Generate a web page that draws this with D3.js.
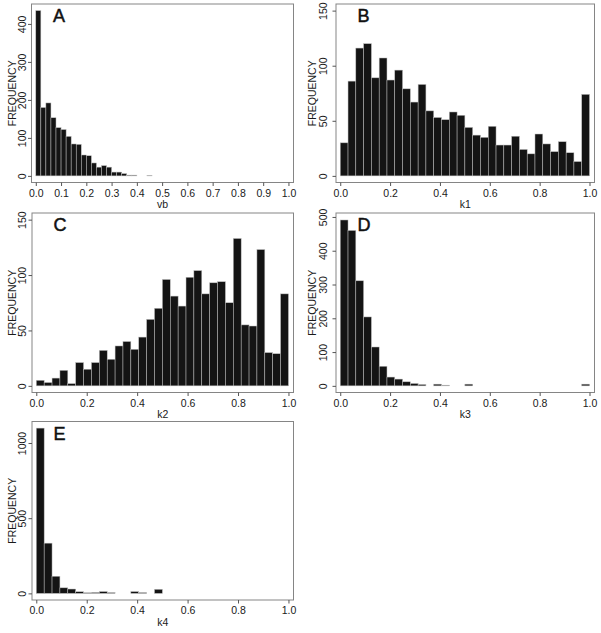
<!DOCTYPE html>
<html>
<head>
<meta charset="utf-8">
<script src="https://cdn.jsdelivr.net/npm/d3@7"></script>
<style>
  body { margin: 0; background: #fff; }
  svg { display: block; font-family: "Liberation Sans", Arial, sans-serif; }
</style>
</head>
<body>
<svg id="vis" width="601" height="633"></svg>
<script>
const width = 601;
const height = 633;

// histogram counts
// vb uses bins of 0.02, the k's use 32 bins over [0, 1]
const vbCounts = [435, 180, 192, 153, 127, 122, 104, 84, 83, 55, 53, 34, 23, 27, 23, 10, 10, 6, 2, 2, 0, 0, 1];
const k1Counts = [30, 86, 116, 120, 89, 107, 87, 96, 79, 67, 83, 59, 53, 51, 58, 55,
  44, 37, 35, 45, 28, 28, 36, 24, 20, 38, 29, 22, 31, 21, 13, 74];
const k2Counts = [5, 3, 7, 14, 2, 21, 15, 21, 32, 24, 36, 40, 33, 44, 60, 70,
  96, 81, 72, 98, 104, 83, 93, 94, 75, 133, 55, 54, 123, 30, 29, 83];
const k3Counts = [491, 460, 311, 204, 115, 58, 26, 20, 12, 7, 4, 0, 5, 2, 0, 0,
  5, 0, 0, 0, 0, 0, 0, 0, 0, 0, 0, 0, 0, 0, 0, 5];
const k4Counts = [1099, 334, 114, 37, 29, 11, 4, 6, 12, 5, 0, 0, 12, 5, 0, 27,
  0, 0, 0, 0, 0, 0, 0, 0, 0, 0, 0, 0, 0, 0, 0, 0];

const vbTicks = d3.range(0, 11).map(d => d / 10);
const kTicks = [0, 0.2, 0.4, 0.6, 0.8, 1.0];

const panels = [
  {letter: "A", name: "vb", counts: vbCounts, binWidth: 0.02, ymax: 435, yTicks: [0, 100, 200, 300, 400], xTicks: vbTicks,
    box: [31.5, 4, 293.5, 182.5], col: 0},
  {letter: "B", name: "k1", counts: k1Counts, binWidth: 1 / 32, ymax: 150, yTicks: [0, 50, 100, 150], xTicks: kTicks,
    box: [336, 4, 594.5, 182.5], col: 300},
  {letter: "C", name: "k2", counts: k2Counts, binWidth: 1 / 32, ymax: 150, yTicks: [0, 50, 100, 150], xTicks: kTicks,
    box: [32, 213, 293.5, 392.5], col: 0},
  {letter: "D", name: "k3", counts: k3Counts, binWidth: 1 / 32, ymax: 492, yTicks: [0, 100, 200, 300, 400, 500], xTicks: kTicks,
    box: [336, 213, 594.5, 392.5], col: 300},
  {letter: "E", name: "k4", counts: k4Counts, binWidth: 1 / 32, ymax: 1099, yTicks: [0, 500, 1000], xTicks: kTicks,
    box: [32, 421.5, 293.5, 600], col: 0}
];

const svg = d3.select("svg#vis");
svg.append("rect").attr("width", width).attr("height", height).attr("fill", "#fff");

const fontSize = 10.5;

panels.forEach(drawPanel);

function drawPanel(p) {
  const [x0, y0, x1, y1] = p.box;
  const g = svg.append("g").attr("class", "panel");

  // R style: 4% padding on y, a little on x
  const x = d3.scaleLinear().domain([-0.017, 1.02]).range([x0, x1]);
  const y = d3.scaleLinear().domain([-0.04 * p.ymax, 1.04 * p.ymax]).range([y1, y0]);

  const bins = p.counts.map((c, i) => ({x0: i * p.binWidth, x1: (i + 1) * p.binWidth, count: c}))
    .filter(d => d.count > 0);

  g.selectAll("rect.bar")
    .data(bins)
    .enter()
    .append("rect")
    .attr("class", "bar")
    .attr("x", d => x(d.x0))
    .attr("width", d => x(d.x1) - x(d.x0))
    .attr("y", d => y(d.count))
    .attr("height", d => y(0) - y(d.count))
    .attr("fill", "#141414")
    .attr("stroke", "#bdbdbd")
    .attr("stroke-width", 0.5);

  // plot box
  g.append("rect")
    .attr("x", x0)
    .attr("y", y0)
    .attr("width", x1 - x0)
    .attr("height", y1 - y0)
    .attr("fill", "none")
    .attr("stroke", "#858585")
    .attr("stroke-width", 1);

  // x axis
  const xAxis = g.append("g")
    .attr("transform", "translate(0," + y1 + ")")
    .call(d3.axisBottom(x).tickValues(p.xTicks).tickFormat(d3.format(".1f"))
      .tickSize(3.5).tickSizeOuter(0).tickPadding(3.5));
  xAxis.select(".domain").remove();
  xAxis.selectAll("line").attr("stroke", "#555");
  xAxis.selectAll("text")
    .attr("fill", "#1a1a1a")
    .style("font-size", fontSize + "px")
    .style("font-family", "'Liberation Sans', Arial, sans-serif");

  // y axis, labels rotated like R's las = 0
  const shift = p.col ? 3 : 0;
  const yAxis = g.append("g")
    .attr("transform", "translate(" + x0 + ",0)")
    .call(d3.axisLeft(y).tickValues(p.yTicks).tickFormat(d3.format("d")).tickSize(3.5).tickSizeOuter(0));
  yAxis.select(".domain").remove();
  yAxis.selectAll("line").attr("stroke", "#555");
  yAxis.selectAll("text")
    .attr("x", 0)
    .attr("y", 0)
    .attr("dy", 0)
    .attr("text-anchor", "middle")
    .attr("transform", "translate(" + (-6 - shift) + ",0) rotate(-90)")
    .attr("fill", "#1a1a1a")
    .style("font-size", fontSize + "px")
    .style("font-family", "'Liberation Sans', Arial, sans-serif");

  g.append("text")
    .attr("transform", "translate(" + (x0 - 16 - shift * 1.5) + "," + ((y0 + y1) / 2) + ") rotate(-90)")
    .attr("text-anchor", "middle")
    .attr("fill", "#1a1a1a")
    .style("font-size", fontSize + "px")
    .text("FREQUENCY");

  g.append("text")
    .attr("x", (x0 + x1) / 2)
    .attr("y", y1 + 25.5)
    .attr("text-anchor", "middle")
    .attr("fill", "#1a1a1a")
    .style("font-size", fontSize + "px")
    .text(p.name);

  g.append("text")
    .attr("x", x0 + 21.5)
    .attr("y", y0 + 18)
    .attr("fill", "#111")
    .attr("stroke", "#111")
    .attr("stroke-width", 0.5)
    .style("font-size", "18px")
    .text(p.letter);
}
</script>
</body>
</html>
